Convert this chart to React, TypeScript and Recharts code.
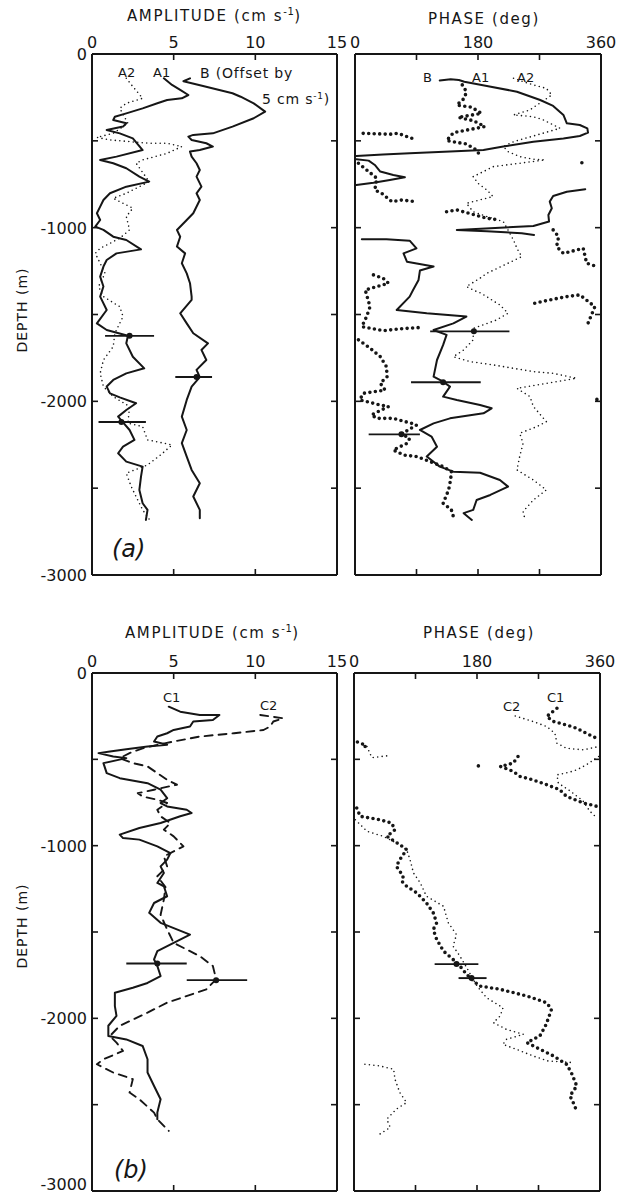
import React from "react";
import { LineChart, Line, XAxis, YAxis } from "recharts";

// [depth (m), value]; each series is a list of pen-down pieces
type Pt = [number, number];
// [depth, low, centre, high]
type ErrBar = [number, number, number, number];

const DEPTH_TICKS = [-3000, -2500, -2000, -1500, -1000, -500, 0];
const AMP_TICKS = [0, 5, 10, 15];
const PHASE_TICKS = [0, 90, 180, 270, 360];
const PHASE_LABELS = [0, 180, 360];

// ---------- (a) amplitude ----------
const ampA1: Pt[][] = [[
  [-140, 4.4], [-178, 4.9], [-207, 5.4], [-236, 5.9], [-255, 5.5], [-265, 4.6], [-284, 4.0], [-313, 3.1],
  [-342, 2.1], [-361, 1.4], [-380, 1.3], [-399, 2.1], [-418, 1.9], [-438, 0.9], [-457, 1.7], [-486, 2.5],
  [-553, 3.1], [-591, 1.5], [-610, 0.5], [-629, 1.3], [-658, 2.1], [-706, 2.9], [-735, 3.5], [-764, 2.1],
  [-802, 1.1], [-841, 0.7], [-879, 0.5], [-917, 0.3], [-956, 0.5], [-994, 0.2], [-1013, 0.7], [-1052, 1.3],
  [-1071, 2.1], [-1125, 3.0], [-1148, 1.5], [-1186, 0.9], [-1224, 0.7], [-1282, 0.5], [-1339, 0.7], [-1397, 0.5],
  [-1474, 0.9], [-1551, 0.3], [-1589, 0.9], [-1622, 2.2], [-1666, 2.1], [-1743, 2.5], [-1810, 3.2], [-1839, 2.1],
  [-1877, 1.3], [-1915, 0.9], [-1954, 1.1], [-1977, 1.7], [-2011, 2.7], [-2050, 2.1], [-2088, 1.6], [-2121, 1.9],
  [-2165, 2.3], [-2222, 2.6], [-2261, 1.9], [-2299, 1.6], [-2347, 2.1], [-2376, 3.1], [-2434, 3.0], [-2510, 2.9],
  [-2587, 3.1], [-2625, 3.4], [-2683, 3.3],
]];
const ampA2: Pt[][] = [[
  [-140, 2.1], [-188, 2.5], [-255, 3.1], [-284, 2.1], [-313, 1.7], [-399, 2.2], [-457, 1.3], [-480, 0.3],
  [-495, 1.1], [-514, 3.5], [-514, 4.6], [-533, 5.5], [-572, 4.6], [-610, 3.1], [-629, 2.7], [-735, 3.5],
  [-802, 2.1], [-831, 1.3], [-888, 2.5], [-936, 2.1], [-1013, 2.3], [-1061, 1.7], [-1119, 0.5], [-1148, 0.2],
  [-1205, 0.5], [-1263, 0.8], [-1339, 0.4], [-1397, 0.7], [-1455, 1.7], [-1512, 1.9], [-1608, 1.4], [-1685, 1.3],
  [-1762, 0.7], [-1839, 0.5], [-1915, 0.7], [-1973, 1.3], [-2030, 2.3], [-2126, 2.2], [-2146, 3.1], [-2222, 3.4],
  [-2251, 4.9], [-2309, 4.2], [-2366, 3.4], [-2414, 2.1], [-2491, 2.4], [-2568, 2.8], [-2625, 3.1], [-2692, 3.6],
]];
// B is drawn offset by 5 cm/s
const ampB: Pt[][] = [[
  [-140, 6.0], [-157, 5.6], [-184, 6.8], [-226, 8.6], [-246, 9.1], [-284, 9.9], [-332, 10.6], [-370, 9.9],
  [-418, 8.6], [-457, 7.4], [-466, 6.2], [-476, 5.9], [-495, 6.1], [-514, 7.0], [-533, 7.4], [-553, 6.6],
  [-562, 6.0], [-591, 6.1], [-629, 6.4], [-668, 6.6], [-706, 6.4], [-764, 6.7], [-802, 6.4], [-841, 6.6],
  [-917, 6.2], [-956, 5.8], [-1013, 5.2], [-1052, 5.4], [-1109, 5.2], [-1148, 5.7], [-1205, 5.5], [-1263, 5.8],
  [-1320, 6.0], [-1397, 6.1], [-1416, 6.1], [-1493, 5.4], [-1551, 5.8], [-1608, 6.2], [-1666, 7.1], [-1704, 6.7],
  [-1762, 7.0], [-1819, 6.4], [-1861, 6.6], [-1915, 6.1], [-1992, 5.8], [-2088, 5.5], [-2165, 5.8], [-2241, 5.5],
  [-2318, 5.8], [-2395, 6.1], [-2472, 6.6], [-2548, 6.2], [-2625, 6.6], [-2673, 6.6],
]];
const ampErrA: ErrBar[] = [[-1623, 0.8, 2.3, 3.8], [-2119, 0.4, 1.8, 3.3], [-1860, 5.1, 6.4, 7.35]];

// ---------- (a) phase ----------
const phB: Pt[][] = [
  [[-152, 124], [-146, 140], [-150, 152], [-160, 160], [-184, 193], [-217, 237], [-265, 271], [-299, 290],
   [-351, 305], [-399, 310], [-409, 329], [-428, 340], [-453, 341], [-472, 329], [-486, 305], [-505, 261],
   [-533, 217], [-553, 188], [-562, 139], [-572, 80], [-578, 41], [-587, 2]],
  [[-606, 2], [-614, 20], [-639, 29], [-677, 37], [-697, 56], [-710, 73], [-725, 51], [-741, 27], [-754, 2]],
  [[-779, 337], [-793, 310], [-818, 290], [-850, 285], [-888, 288], [-927, 283], [-965, 284], [-990, 261],
   [-1000, 212], [-1013, 149], [-1021, 193], [-1032, 244], [-1042, 262]],
  [[-1067, 10], [-1067, 46], [-1075, 80], [-1119, 90], [-1148, 71], [-1196, 76], [-1224, 115], [-1247, 95],
   [-1301, 93], [-1359, 85], [-1397, 80], [-1474, 61], [-1493, 105], [-1512, 163], [-1551, 144], [-1589, 115],
   [-1617, 134], [-1675, 129], [-1762, 120], [-1858, 115], [-1887, 129], [-1915, 139], [-1973, 129], [-1992, 149],
   [-2021, 183], [-2040, 200], [-2069, 188], [-2098, 139], [-2127, 115], [-2165, 95], [-2203, 112], [-2261, 120],
   [-2318, 105], [-2376, 124], [-2405, 144], [-2411, 183], [-2453, 212], [-2491, 224], [-2539, 198], [-2568, 178],
   [-2625, 173], [-2644, 159], [-2683, 171]],
];
const phA1: Pt[][] = [
  [[-178, 157], [-217, 163], [-255, 160], [-294, 149], [-307, 171], [-342, 185], [-365, 151], [-384, 173],
   [-418, 190], [-453, 144], [-499, 134], [-518, 163], [-553, 178], [-587, 183]],
  [[-457, 12], [-462, 51], [-457, 63], [-495, 90]],
  [[-626, 332], [-632, 334]],
  [[-629, 5], [-677, 20], [-716, 32], [-783, 29], [-802, 39], [-850, 54], [-841, 68], [-850, 90]],
  [[-908, 134], [-898, 149], [-946, 193], [-956, 212]],
  [[-1013, 290], [-1052, 298], [-1109, 295], [-1148, 305], [-1119, 334], [-1205, 339], [-1224, 354]],
  [[-1272, 27], [-1291, 41], [-1320, 49], [-1359, 15], [-1455, 22], [-1512, 17], [-1570, 10], [-1593, 41],
   [-1581, 71], [-1574, 100]],
  [[-1435, 263], [-1416, 285], [-1397, 310], [-1387, 329], [-1455, 351], [-1570, 339]],
  [[-1646, 5], [-1694, 22], [-1743, 37], [-1800, 46], [-1858, 47], [-1896, 37], [-1935, 44], [-1954, 12],
   [-1992, 7], [-2021, 37], [-2030, 49], [-2078, 24], [-2098, 32], [-2098, 56], [-2127, 83], [-2137, 90],
   [-2188, 68], [-2213, 80], [-2242, 76], [-2280, 56], [-2309, 71], [-2318, 90], [-2347, 110], [-2376, 129],
   [-2405, 141], [-2450, 140], [-2510, 137], [-2587, 129], [-2625, 141], [-2664, 144]],
  [[-1989, 354], [-1995, 355]],
];
const phA2: Pt[][] = [[
  [-140, 232], [-159, 246], [-178, 261], [-198, 280], [-236, 288], [-322, 256], [-351, 232], [-361, 261],
  [-380, 276], [-428, 300], [-505, 232], [-533, 217], [-562, 224], [-591, 241], [-606, 261], [-610, 278],
  [-649, 202], [-677, 188], [-706, 173], [-745, 180], [-783, 193], [-821, 202], [-860, 163], [-908, 173],
  [-936, 193], [-965, 217], [-1071, 232], [-1119, 237], [-1167, 244], [-1263, 193], [-1291, 183], [-1339, 163],
  [-1368, 178], [-1378, 185], [-1416, 200], [-1445, 212], [-1493, 224], [-1532, 207], [-1580, 173], [-1646, 173],
  [-1704, 159], [-1743, 144], [-1771, 168], [-1790, 202], [-1810, 232], [-1829, 261], [-1839, 290], [-1867, 324],
  [-1925, 237], [-1973, 256], [-2030, 261], [-2117, 280], [-2146, 266], [-2184, 241], [-2242, 246], [-2318, 241],
  [-2395, 237], [-2453, 261], [-2510, 280], [-2568, 261], [-2635, 246], [-2683, 249],
]];
const phErrA: ErrBar[] = [[-1597, 110, 174, 226], [-1890, 82, 129, 184], [-2190, 20, 68, 95]];

// ---------- (b) amplitude ----------
const ampC1: Pt[][] = [[
  [-195, 4.7], [-224, 5.4], [-243, 6.6], [-243, 7.8], [-272, 7.4], [-281, 6.2], [-310, 6.0], [-330, 5.0],
  [-349, 4.6], [-368, 4.0], [-397, 3.8], [-416, 4.6], [-426, 3.4], [-441, 2.1], [-455, 1.1], [-464, 0.4],
  [-484, 1.3], [-493, 2.1], [-522, 0.7], [-580, 0.9], [-609, 1.7], [-638, 3.4], [-676, 4.2], [-725, 4.6],
  [-753, 4.2], [-773, 4.6], [-792, 5.8], [-811, 6.1], [-830, 5.4], [-869, 4.2], [-898, 2.9], [-936, 1.7],
  [-956, 1.9], [-965, 2.9], [-1004, 4.0], [-1043, 4.8], [-1081, 4.6], [-1120, 4.2], [-1158, 4.4], [-1216, 4.0],
  [-1235, 4.4], [-1293, 4.6], [-1332, 3.8], [-1389, 3.5], [-1447, 4.2], [-1515, 6.0], [-1563, 5.0], [-1611, 4.0],
  [-1659, 3.8], [-1697, 4.0], [-1755, 4.2], [-1795, 3.4], [-1823, 2.5], [-1852, 1.4], [-1929, 1.4], [-1986, 1.5],
  [-2043, 1.0], [-2102, 1.0], [-2122, 2.1], [-2160, 3.1], [-2237, 3.4], [-2314, 3.4], [-2392, 3.8], [-2469, 4.2],
  [-2546, 4.0], [-2584, 4.0],
]];
const ampC2: Pt[][] = [[
  [-243, 10.3], [-262, 11.7], [-281, 11.1], [-310, 10.9], [-330, 10.5], [-349, 8.7], [-368, 6.6], [-397, 5.0],
  [-416, 4.0], [-436, 3.1], [-464, 2.3], [-493, 1.7], [-522, 2.5], [-541, 3.4], [-580, 4.0], [-619, 4.6],
  [-647, 5.2], [-676, 3.8], [-696, 2.8], [-715, 3.1], [-734, 4.0], [-753, 4.6], [-792, 4.0], [-830, 4.2],
  [-869, 4.8], [-907, 4.4], [-946, 5.0], [-1004, 5.6], [-1062, 4.4], [-1120, 4.6], [-1177, 4.0], [-1240, 4.5],
  [-1312, 4.4], [-1400, 4.2], [-1485, 4.6], [-1563, 5.0], [-1640, 6.6], [-1697, 7.4], [-1774, 7.6], [-1832, 7.0],
  [-1909, 4.6], [-1967, 3.4], [-2043, 1.7], [-2102, 1.1], [-2141, 1.5], [-2189, 1.9], [-2237, 0.7], [-2266, 0.3],
  [-2314, 1.3], [-2352, 2.5], [-2430, 2.3], [-2469, 2.9], [-2546, 3.8], [-2584, 4.0], [-2652, 4.7],
]];
const ampErrB: ErrBar[] = [[-1682, 2.1, 4.0, 5.8], [-1779, 5.8, 7.6, 9.5]];

// ---------- (b) phase ----------
const phC1: Pt[][] = [
  [[-204, 297], [-252, 282], [-281, 292], [-301, 311], [-320, 326], [-349, 340], [-378, 355]],
  [[-400, 5], [-420, 18], [-445, 10]],
  [[-538, 182], [-544, 183]],
  [[-484, 240], [-522, 233], [-541, 214], [-570, 233], [-599, 243], [-619, 262], [-647, 282], [-676, 301],
   [-715, 311], [-753, 336], [-772, 355]],
  [[-782, 4], [-830, 9], [-850, 38], [-869, 55], [-908, 60], [-946, 48], [-994, 67], [-1023, 77], [-1081, 67],
   [-1120, 62], [-1177, 72], [-1206, 70], [-1235, 77], [-1274, 92], [-1332, 106], [-1389, 116], [-1447, 121],
   [-1486, 116], [-1543, 121], [-1611, 131], [-1659, 145], [-1697, 155], [-1746, 165], [-1784, 175], [-1813, 184],
   [-1832, 214], [-1871, 253], [-1910, 282], [-1948, 289], [-2005, 284], [-2045, 280], [-2102, 272], [-2141, 253],
   [-2179, 272], [-2218, 292], [-2266, 311], [-2314, 318], [-2392, 326], [-2449, 316], [-2506, 323], [-2545, 326]],
];
const phC2: Pt[][] = [
  [[-249, 236], [-281, 262], [-310, 282], [-349, 294], [-407, 297], [-436, 311], [-445, 336], [-426, 358]],
  [[-426, 19], [-490, 26], [-480, 48]],
  [[-484, 358], [-532, 340], [-561, 326], [-576, 314], [-590, 297], [-638, 299], [-680, 315], [-740, 335],
   [-800, 345], [-830, 353]],
  [[-850, 2], [-917, 19], [-946, 43], [-985, 62], [-1023, 77], [-1081, 82], [-1158, 87], [-1216, 97],
   [-1293, 106], [-1351, 131], [-1447, 138], [-1515, 150], [-1582, 145], [-1640, 155], [-1707, 165], [-1813, 180],
   [-1881, 194], [-1939, 218], [-1986, 214], [-2025, 204], [-2064, 223], [-2093, 248], [-2122, 223], [-2151, 218],
   [-2180, 238], [-2218, 262], [-2247, 284], [-2257, 323]],
  [[-2266, 16], [-2276, 38], [-2295, 58], [-2353, 60], [-2430, 67], [-2488, 77], [-2526, 62], [-2584, 48],
   [-2632, 53], [-2670, 38]],
];
const phErrB: ErrBar[] = [[-1686, 118, 150, 182], [-1767, 153, 172, 194]];

const INK = "#161616";
const FONT = "'DejaVu Sans', sans-serif";
const AXIS = { stroke: INK, strokeWidth: 2 };

type Kind = "solid" | "dash" | "fine" | "bead";
const KINDS: Record<Kind, { w: number; dash?: string }> = {
  solid: { w: 2 },
  dash: { w: 1.9, dash: "8 6" },
  fine: { w: 1.6, dash: "0 4.5" },
  bead: { w: 3.6, dash: "0 5.5" },
};

type Row = { v: number | null; d: number };
function rows(segs: Pt[][]): Row[] {
  const out: Row[] = [];
  segs.forEach((seg, i) => {
    if (i > 0) out.push({ v: null, d: seg[0][0] });
    seg.forEach(([d, v]) => out.push({ v, d }));
  });
  return out;
}

// all ticks point into the frame; labels sit outside
const topTick = (labels: number[]) => (p: any) => (
  <g>
    <line x1={p.x} x2={p.x} y1={p.y} y2={p.y + 6} stroke={INK} strokeWidth={1.6} />
    {labels.includes(p.payload.value) && (
      <text x={p.x} y={p.y - 6} textAnchor="middle" fontSize={16} fontFamily={FONT} fill={INK}>
        {p.payload.value}
      </text>
    )}
  </g>
);
const bottomTick = (p: any) => (
  <line x1={p.x} x2={p.x} y1={p.y} y2={p.y - 6} stroke={INK} strokeWidth={1.6} />
);
const leftTick = (labelled: boolean, maxY: number) => (p: any) => (
  <g>
    <line x1={p.x} x2={p.x + 6} y1={p.y} y2={p.y} stroke={INK} strokeWidth={1.6} />
    {labelled && p.payload.value % 1000 === 0 && (
      <text x={p.x - 5} y={Math.min(p.y + 6, maxY)} textAnchor="end" fontSize={16} fontFamily={FONT} fill={INK}>
        {p.payload.value}
      </text>
    )}
  </g>
);
const rightTick = (p: any) => (
  <line x1={p.x} x2={p.x - 6} y1={p.y} y2={p.y} stroke={INK} strokeWidth={1.6} />
);

type Series = { segs: Pt[][]; kind: Kind };
type PanelProps = {
  left: number; top: number; w: number; h: number;
  m: { top: number; right: number; bottom: number; left: number };
  xMax: number; xTicks: number[]; xLabels: number[]; yLabels: boolean;
  series: Series[]; errs: ErrBar[];
};

// m is the plot frame inset; each axis takes 1px of it (a 0-size axis is not drawn)
function Panel({ left, top, w, h, m, xMax, xTicks, xLabels, yLabels, series, errs }: PanelProps) {
  const common = { interval: 0 as const, tickSize: 0, tickMargin: 0, tickLine: false, axisLine: AXIS, allowDataOverflow: true };
  const margin = { top: m.top - 1, right: m.right - 1, bottom: m.bottom - 1, left: m.left - 1 };
  return (
    <div style={{ position: "absolute", left, top }}>
      <LineChart width={w} height={h} margin={margin}>
        <XAxis xAxisId="top" orientation="top" dataKey="v" type="number" domain={[0, xMax]} ticks={xTicks}
          height={1} tick={topTick(xLabels)} {...common} />
        <XAxis xAxisId="bot" orientation="bottom" dataKey="v" type="number" domain={[0, xMax]} ticks={xTicks}
          height={1} tick={bottomTick} {...common} />
        <YAxis yAxisId="l" orientation="left" type="number" domain={[-3000, 0]} ticks={DEPTH_TICKS}
          width={1} tick={leftTick(yLabels, h - 5)} {...common} />
        <YAxis yAxisId="r" orientation="right" type="number" domain={[-3000, 0]} ticks={DEPTH_TICKS}
          width={1} tick={rightTick} {...common} />
        {series.map((s, i) => (
          <Line key={i} data={rows(s.segs)} dataKey="d" xAxisId="top" yAxisId="l" type="linear"
            stroke={INK} strokeWidth={KINDS[s.kind].w} strokeDasharray={KINDS[s.kind].dash}
            strokeLinecap="round" strokeLinejoin="round" dot={false} activeDot={false}
            isAnimationActive={false} />
        ))}
        {errs.map(([d, lo, mid, hi], i) => (
          <Line key={`e${i}`} data={[{ v: lo, d }, { v: mid, d }, { v: hi, d }]} dataKey="d"
            xAxisId="top" yAxisId="l" stroke={INK} strokeWidth={1.9} activeDot={false}
            isAnimationActive={false}
            dot={(p: any) => (
              <circle key={`d${i}-${p.index}`} cx={p.cx} cy={p.cy} r={p.index === 1 ? 3 : 0} fill={INK} stroke="none" />
            )} />
        ))}
      </LineChart>
    </div>
  );
}

const txt = { fontFamily: FONT, fill: INK } as const;
const TITLE = { fontSize: 15, letterSpacing: 1.6, ...txt };
const NOTE = { fontSize: 13, ...txt };

function Unit({ x, y, children }: { x: number; y: number; children: string }) {
  return (
    <text x={x} y={y} {...TITLE}>
      {children} (cm s<tspan dy={-6} fontSize={10} letterSpacing={0.5}>-1</tspan><tspan dy={6}>)</tspan>
    </text>
  );
}

export default function App() {
  return (
    <div style={{ position: "absolute", left: 0, top: 0, width: 626, height: 1195, background: "#fff", overflow: "hidden" }}>
      <Panel left={0} top={0} w={352} h={600} m={{ top: 54, right: 15, bottom: 25, left: 92 }}
        xMax={15} xTicks={AMP_TICKS} xLabels={AMP_TICKS} yLabels
        series={[{ segs: ampA2, kind: "fine" }, { segs: ampA1, kind: "solid" }, { segs: ampB, kind: "solid" }]}
        errs={ampErrA} />
      <Panel left={345} top={0} w={281} h={600} m={{ top: 54, right: 25, bottom: 25, left: 10 }}
        xMax={360} xTicks={PHASE_TICKS} xLabels={PHASE_LABELS} yLabels={false}
        series={[{ segs: phA2, kind: "fine" }, { segs: phA1, kind: "bead" }, { segs: phB, kind: "solid" }]}
        errs={phErrA} />
      <Panel left={0} top={600} w={352} h={595} m={{ top: 73, right: 15, bottom: 4, left: 92 }}
        xMax={15} xTicks={AMP_TICKS} xLabels={AMP_TICKS} yLabels
        series={[{ segs: ampC2, kind: "dash" }, { segs: ampC1, kind: "solid" }]}
        errs={ampErrB} />
      <Panel left={345} top={600} w={281} h={595} m={{ top: 73, right: 26, bottom: 4, left: 9 }}
        xMax={360} xTicks={PHASE_TICKS} xLabels={PHASE_LABELS} yLabels={false}
        series={[{ segs: phC2, kind: "fine" }, { segs: phC1, kind: "bead" }]}
        errs={phErrB} />

      <svg width={626} height={1195} style={{ position: "absolute", left: 0, top: 0, pointerEvents: "none" }}>
        <Unit x={127} y={21}>AMPLITUDE</Unit>
        <text x={428} y={24} {...TITLE}>PHASE (deg)</text>
        <Unit x={125} y={638}>AMPLITUDE</Unit>
        <text x={423} y={638} {...TITLE}>PHASE (deg)</text>

        <text transform="translate(27,310) rotate(-90)" textAnchor="middle" fontSize={14} letterSpacing={1} {...txt}>DEPTH (m)</text>
        <text transform="translate(27,926) rotate(-90)" textAnchor="middle" fontSize={14} letterSpacing={1} {...txt}>DEPTH (m)</text>

        <text x={118} y={77} {...NOTE}>A2</text>
        <text x={153} y={77} {...NOTE}>A1</text>
        <text x={200} y={78} {...NOTE} fontSize={14} letterSpacing={0.8}>B (Offset by</text>
        <text x={262} y={104} {...NOTE} fontSize={14} letterSpacing={0.8}>
          5 cm s<tspan dy={-5} fontSize={9}>-1</tspan><tspan dy={5}>)</tspan>
        </text>

        <text x={423} y={82} {...NOTE}>B</text>
        <text x={472} y={82} {...NOTE}>A1</text>
        <text x={517} y={82} {...NOTE}>A2</text>

        <text x={163} y={702} {...NOTE}>C1</text>
        <text x={260} y={710} {...NOTE}>C2</text>
        <text x={503} y={711} {...NOTE}>C2</text>
        <text x={547} y={702} {...NOTE}>C1</text>

        <text x={112} y={557} fontSize={24} fontStyle="italic" {...txt}>(a)</text>
        <text x={114} y={1178} fontSize={24} fontStyle="italic" {...txt}>(b)</text>
      </svg>
    </div>
  );
}
